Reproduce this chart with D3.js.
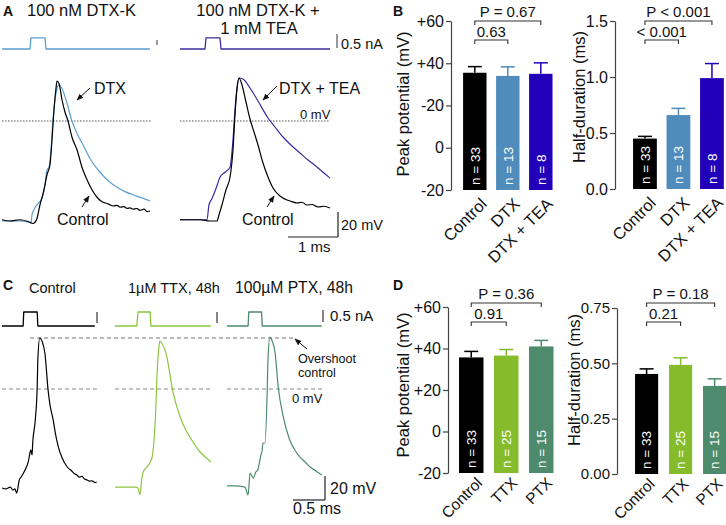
<!DOCTYPE html>
<html><head><meta charset="utf-8">
<script src="https://cdn.jsdelivr.net/npm/d3@7"></script>
<style>
body{margin:0;background:#fff}
svg{display:block;background:#fff}
text{font-family:"Liberation Sans",Arial,Helvetica,sans-serif;fill:#111}
</style>
</head><body>
<svg id="fig" width="726" height="525"></svg>
<script>
// ---------------- DATA ----------------
// Panel B bar charts
const bCategories = ["Control", "DTX", "DTX + TEA"];
const bPeakMean = [35.5, 34.0, 35.0];
const bPeakSem  = [2.9, 4.3, 5.2];
const bHalfMean = [0.45, 0.66, 0.99];
const bHalfSem  = [0.02, 0.06, 0.13];
const bN = [33, 13, 8];
// Panel D bar charts
const dCategories = ["Control", "TTX", "PTX"];
const dPeakMean = [35.7, 36.6, 41.0];
const dPeakSem  = [2.9, 2.9, 2.9];
const dHalfMean = [0.452, 0.493, 0.398];
const dHalfSem  = [0.023, 0.032, 0.032];
const dN = [33, 25, 15];
// tick values / labels
const peakTicks = [-20, 0, 20, 40, 60];
const bPeakTickLabels = ["-20", "0", "-20", "+40", "+60"];
const dPeakTickLabels = ["-20", "0", "+20", "+40", "+60"];
const bHalfTicks = [0, 0.5, 1.0, 1.5];
const bHalfTickLabels = ["0.0", "0.5", "1.0", "1.5"];
const dHalfTicks = [0, 0.25, 0.5, 0.75];
const dHalfTickLabels = ["0.00", "0.25", "0.50", "0.75"];
// p-value labels
const bPeakP = ["P = 0.67", "0.63"];
const bHalfP = ["P < 0.001", "< 0.001"];
const dPeakP = ["P = 0.36", "0.91"];
const dHalfP = ["P = 0.18", "0.21"];

// Panel A traces (time ms, membrane potential mV)
const aCtrlL_t = [0,0.16,0.36,0.56,0.62,0.66,0.70,0.76,0.84,0.90,0.96,1.00,1.04,1.08,1.10,1.14,1.20,1.26,1.32,1.40,1.50,1.60,1.70,1.80,1.90,2.02,2.10,2.16,2.22,2.30,2.36,2.44,2.50,2.56,2.62,2.70,2.76,2.84,2.90,2.96];
const aCtrlL_v = [-79,-80,-79,-81,-82,-81,-78,-67,-55,-43,-35,-15,9,26,32,30,17,7,0,-13,-23,-37,-47,-55,-61,-65,-66,-67,-68,-67.5,-69,-68.5,-70,-69.5,-70.5,-70,-71.5,-70.5,-72.5,-72];
const aDtx_t = [0,0.36,0.54,0.58,0.60,0.64,0.72,0.80,0.86,0.90,0.94,0.98,1.02,1.06,1.10,1.14,1.20,1.28,1.40,1.50,1.62,1.76,1.96,2.16,2.30,2.46,2.62,2.80,2.96];
const aDtx_v = [-80,-80,-81,-82,-75,-71,-66,-62,-51,-39,-37,-23,1,17,26,29,26,17,0,-10,-19,-30,-41,-49,-53,-56.5,-59,-61.5,-64];
const aCtrlR_t = [0,0.4,0.6,0.74,0.78,0.84,0.92,1.0,1.06,1.10,1.14,1.18,1.24,1.32,1.40,1.48,1.56,1.66,1.76,1.86,2.0,2.14,2.24,2.34,2.44,2.54,2.64,2.76,2.88,3.0];
const aCtrlR_v = [-79,-79,-80,-80,-75,-67,-55,-45,-23,5,26,34.4,28.8,15.2,1.6,-8.8,-19.2,-33.6,-44.8,-53.6,-60,-63.2,-64.5,-65.6,-65,-67.2,-66.8,-68.8,-68.2,-69.6];
const aTea_t = [0,0.4,0.54,0.58,0.64,0.72,0.80,0.90,1.0,1.06,1.10,1.14,1.18,1.26,1.40,1.56,1.76,1.90,2.06,2.24,2.40,2.56,2.74,2.88,3.0];
const aTea_v = [-79,-79,-79,-67,-62,-54,-45,-41,-37,-15,9,26,34.4,33.6,26.4,16,2.4,-4.8,-12.8,-20,-25.6,-31.2,-36.8,-41.6,-45.6];
// Panel A stimulus (time ms, current nA)
const stimAL_t = [0,0.56,0.58,0.86,0.88,2.96];
const stimAR_t = [0,0.50,0.52,0.80,0.82,3.0];
const stimA_i = [0,0,0.4,0.4,0,0];

// Panel C traces (time ms, mV)
const cCtrl_t = [0,0.06,0.13,0.17,0.2,0.23,0.27,0.3,0.36,0.41,0.44,0.45,0.47,0.48,0.52,0.55,0.56,0.59,0.63,0.67,0.72,0.75,0.8,0.83,0.88,0.94,1.02,1.09,1.13,1.17,1.21,1.25,1.29,1.33,1.37,1.41,1.45,1.48];
const cCtrl_v = [-82.5,-83.3,-81.7,-84.2,-83.3,-86.7,-75.8,-73.3,-67.5,-60.8,-52.5,-50.8,-55,-45,-25.8,1.7,24.2,42.5,39.2,30,-0.8,-13.3,-25.8,-35.8,-48.3,-57.5,-65,-68.3,-70.5,-71.7,-73.5,-72.8,-75,-75.8,-76.8,-76.5,-78,-77.5];
const cTtx_t = [0,0.16,0.31,0.36,0.39,0.42,0.44,0.5,0.55,0.58,0.61,0.63,0.66,0.69,0.7,0.73,0.81,0.86,0.89,0.95,1.02,1.09,1.17,1.25,1.33,1.41,1.5];
const cTtx_v = [-81.7,-81.7,-81.7,-82.5,-88.3,-74.2,-69.2,-65,-60.8,-56.7,-42.5,-25.8,15.8,36.7,40,38.3,26.7,11.7,1.7,-11.7,-23.3,-32.5,-40,-46.7,-52.5,-56.7,-60.8];
const cPtx_t = [0,0.13,0.28,0.33,0.36,0.41,0.45,0.48,0.53,0.55,0.56,0.59,0.63,0.64,0.67,0.7,0.75,0.8,0.88,0.98,1.06,1.14,1.22,1.3,1.39,1.48];
const cPtx_v = [-80.8,-80.8,-81.7,-88.3,-70,-74.2,-69.2,-67.5,-55,-50.8,-45,-45,1.7,24.2,43.3,40.8,30.8,1.7,-23.3,-42.5,-50.8,-56.7,-60.8,-65,-68.3,-71.7];
// Panel C stimulus
const stimCCtrl_t = [0,0.33,0.34,0.55,0.56,1.45];
const stimCTtx_t  = [0,0.34,0.36,0.55,0.56,1.50];
const stimCPtx_t  = [0,0.33,0.34,0.54,0.55,1.48];
const stimC_i = [0,0,0.5,0.5,0,0];

// ---------------- STYLE ----------------
const col = {
  control: "#000000", dtxBar: "#4f8cbc", teaBar: "#2200b9", ttxBar: "#86bc2c", ptxBar: "#4e8a6c",
  dtxTrace: "#5b9fd3", teaTrace: "#3a2c9f", ttxTrace: "#8cc63f", ptxTrace: "#4c8b6c"
};
const svg = d3.select("#fig");
const FONT = '"Liberation Sans",Arial,Helvetica,sans-serif';

function txt(x, y, s, size, opts = {}) {
  const t = svg.append("text").attr("x", x).attr("y", y).text(s)
    .style("font-size", size + "px");
  if (opts.anchor) t.attr("text-anchor", opts.anchor);
  if (opts.bold) t.style("font-weight", "bold");
  if (opts.fill) t.style("fill", opts.fill);
  return t;
}
function line(x1, y1, x2, y2, stroke = "#222", w = 1, dash = null) {
  const l = svg.append("line").attr("x1", x1).attr("y1", y1).attr("x2", x2).attr("y2", y2)
    .attr("stroke", stroke).attr("stroke-width", w);
  if (dash) l.attr("stroke-dasharray", dash);
  return l;
}
svg.append("defs").append("marker").attr("id", "arr").attr("viewBox", "0 0 10 10")
  .attr("refX", 9).attr("refY", 5).attr("markerWidth", 7).attr("markerHeight", 7)
  .attr("orient", "auto")
  .append("path").attr("d", "M0,1 L10,5 L0,9 Z").attr("fill", "#111");
function arrow(x1, y1, x2, y2) {
  line(x1, y1, x2, y2, "#111", 1).attr("marker-end", "url(#arr)");
}
function drawTrace(t, v, xs, ys, color, w = 1.2, curve = d3.curveMonotoneX) {
  const data = t.map((d, i) => [d, v[i]]);
  svg.append("path").datum(data)
    .attr("d", d3.line().x(d => xs(d[0])).y(d => ys(d[1])).curve(curve))
    .attr("fill", "none").attr("stroke", color).attr("stroke-width", w)
    .attr("stroke-linejoin", "round");
}

// ---------------- PANEL A ----------------
txt(3, 16, "A", 14, {bold: true});
txt(27, 16, "100 nM DTX-K", 16.5);
txt(258, 16, "100 nM DTX-K +", 16.5, {anchor: "middle"});
txt(259, 34, "1 mM TEA", 16.5, {anchor: "middle"});

const xAL = d3.scaleLinear().domain([0, 3]).range([2, 152]);
const xAR = d3.scaleLinear().domain([0, 3]).range([180, 330]);
const yA = d3.scaleLinear().domain([0, 20]).range([121, 96]);
const yStimA = d3.scaleLinear().domain([0, 0.5]).range([49, 35]);

drawTrace(stimAL_t, stimA_i, xAL, yStimA, col.dtxTrace, 1.3, d3.curveLinear);
drawTrace(stimAR_t, stimA_i, xAR, yStimA, col.teaTrace, 1.3, d3.curveLinear);
line(157, 40, 157, 45, "#333", 1);
line(337, 34, 337, 48, "#333", 1);
txt(341, 49, "0.5 nA", 14.5);

line(2, yA(0), 152, yA(0), "#555", 1, "1.5,1.5");
line(180, yA(0), 330, yA(0), "#555", 1, "1.5,1.5");
txt(300, 119, "0 mV", 13);

drawTrace(aDtx_t, aDtx_v, xAL, yA, col.dtxTrace);
drawTrace(aCtrlL_t, aCtrlL_v, xAL, yA, col.control);
drawTrace(aTea_t, aTea_v, xAR, yA, col.teaTrace);
drawTrace(aCtrlR_t, aCtrlR_v, xAR, yA, col.control);

txt(94, 94, "DTX", 16);
arrow(90, 88, 77, 100);
txt(57, 225, "Control", 16);
arrow(82, 207, 89, 196);
txt(279, 94, "DTX + TEA", 16);
arrow(277, 86, 263, 100);
txt(242, 225, "Control", 16);
arrow(267, 207, 274, 196);

// scale bars A
line(338, 237, 338, 212, "#222", 1.2);
line(288, 237, 338, 237, "#222", 1.2);
txt(341, 230, "20 mV", 14.5);
txt(298, 252, "1 ms", 15);

// ---------------- BAR CHART FUNCTION ----------------
function barChart(o) {
  const x = d3.scaleBand().domain(o.cats).range(o.xRange)
    .paddingInner(o.pad).paddingOuter(o.pad / 2);
  const y = d3.scaleLinear().domain(o.yDomain).range(o.yRange);
  const g = svg.append("g");
  const ax = g.append("g").attr("transform", `translate(${o.axisX},0)`)
    .call(d3.axisLeft(y).tickValues(o.ticks).tickFormat((d, i) => o.tickLabels[i])
      .tickSize(5).tickSizeOuter(0).tickPadding(2));
  ax.select(".domain").attr("stroke", "#444").attr("stroke-width", 1.2);
  ax.selectAll(".tick line").attr("stroke", "#444").attr("stroke-width", 1.2);
  ax.selectAll(".tick text").style("font-size", o.tickSize + "px").style("font-family", FONT).attr("fill", "#111");

  const base = o.yDomain[0];
  o.cats.forEach((c, i) => {
    const bx = x(c), bw = x.bandwidth(), cx = bx + bw / 2;
    const top = y(o.mean[i]), etop = y(o.mean[i] + o.sem[i]);
    g.append("line").attr("x1", cx).attr("x2", cx).attr("y1", top).attr("y2", etop)
      .attr("stroke", o.colors[i]).attr("stroke-width", 1.5);
    g.append("line").attr("x1", cx - 7).attr("x2", cx + 7).attr("y1", etop).attr("y2", etop)
      .attr("stroke", o.colors[i]).attr("stroke-width", 1.5);
    g.append("rect").attr("x", bx).attr("y", top).attr("width", bw)
      .attr("height", y(base) - top).attr("fill", o.colors[i]);
    g.append("text").attr("transform", `translate(${cx},${y(base) - 5}) rotate(-90)`)
      .attr("dy", "0.36em").style("font-size", "13.5px").style("fill", "#fff")
      .text("n = " + o.n[i]);
    g.append("text").attr("transform", `translate(${cx + o.labDx},${y(base) + o.labDy}) rotate(-45)`)
      .attr("text-anchor", "end").style("font-size", o.labSize + "px").text(c);
  });
  g.append("text").attr("transform", `translate(${o.titleX},${o.titleY}) rotate(-90)`)
    .attr("text-anchor", "middle").attr("dy", "0.35em").style("font-size", "16.5px").text(o.title);
  const cc = o.cats.map(c => x(c) + x.bandwidth() / 2);
  const br = (xa, xb, yy, label, ty) => {
    g.append("path").attr("d", `M${xa},${yy + 4}V${yy}H${xb}V${yy + 4}`)
      .attr("fill", "none").attr("stroke", "#333").attr("stroke-width", 1.1);
    g.append("text").attr("x", (xa + xb) / 2).attr("y", ty).attr("text-anchor", "middle")
      .style("font-size", "15px").text(label);
  };
  br(cc[0], cc[2], o.brTop, o.p[0], o.brTop - 4);
  br(cc[0], cc[1], o.brLow, o.p[1], o.brLow - 3);
}

// ---------------- PANEL B ----------------
txt(393, 16, "B", 14, {bold: true});
barChart({cats: bCategories, mean: bPeakMean, sem: bPeakSem, n: bN,
  colors: [col.control, col.dtxBar, col.teaBar], yDomain: [-20, 60], yRange: [190, 21],
  xRange: [458.3, 557.3], pad: 0.29, axisX: 451, ticks: peakTicks, tickLabels: bPeakTickLabels,
  tickSize: 16, labSize: 16.5, labDx: 13, labDy: 15,
  title: "Peak potential (mV)", titleX: 403, titleY: 104, brTop: 21, brLow: 40, p: bPeakP});
barChart({cats: bCategories, mean: bHalfMean, sem: bHalfSem, n: bN,
  colors: [col.control, col.dtxBar, col.teaBar], yDomain: [0, 1.5], yRange: [189, 21],
  xRange: [628.2, 728.7], pad: 0.29, axisX: 615, ticks: bHalfTicks, tickLabels: bHalfTickLabels,
  tickSize: 16, labSize: 16.5, labDx: 12, labDy: 15,
  title: "Half-duration (ms)", titleX: 579, titleY: 97, brTop: 21, brLow: 40, p: bHalfP});

// ---------------- PANEL C ----------------
txt(3, 290, "C", 14, {bold: true});
txt(29, 293, "Control", 14.5);
txt(128, 293, "1µM TTX, 48h", 14.5);
txt(235, 293, "100µM PTX, 48h", 15.7);

const xCc = d3.scaleLinear().domain([0, 1.5]).range([2, 98]);
const xCt = d3.scaleLinear().domain([0, 1.5]).range([115, 211]);
const xCp = d3.scaleLinear().domain([0, 1.5]).range([227, 323]);
const yC = d3.scaleLinear().domain([0, 20]).range([389, 365]);
const yStimC = d3.scaleLinear().domain([0, 0.5]).range([326, 312]);

drawTrace(stimCCtrl_t, stimC_i, xCc, yStimC, col.control, 1.3, d3.curveLinear);
drawTrace(stimCTtx_t, stimC_i, xCt, yStimC, col.ttxTrace, 1.3, d3.curveLinear);
drawTrace(stimCPtx_t, stimC_i, xCp, yStimC, col.ptxTrace, 1.3, d3.curveLinear);
line(97, 312, 97, 323, "#333", 1.2);
line(217, 312, 217, 323, "#333", 1.2);
line(323, 310, 323, 322, "#333", 1.2);
txt(330, 321, "0.5 nA", 15);

line(30, 338, 293, 338, "#777", 1, "4,3");
line(2, yC(0), 97, yC(0), "#888", 1, "4,3");
line(115, yC(0), 211, yC(0), "#888", 1, "4,3");
line(227, yC(0), 323, yC(0), "#888", 1, "4,3");
arrow(307, 349, 295, 339);
txt(298, 363, "Overshoot", 12.6);
txt(298, 377, "control", 12.6);
txt(292, 403, "0 mV", 13);

drawTrace(cCtrl_t, cCtrl_v, xCc, yC, col.control);
drawTrace(cTtx_t, cTtx_v, xCt, yC, col.ttxTrace);
drawTrace(cPtx_t, cPtx_v, xCp, yC, col.ptxTrace);

line(325, 500, 325, 476, "#222", 1.2);
line(293, 500, 325, 500, "#222", 1.2);
txt(330, 494, "20 mV", 16);
txt(293, 514, "0.5 ms", 16);

// ---------------- PANEL D ----------------
txt(393, 290, "D", 14, {bold: true});
barChart({cats: dCategories, mean: dPeakMean, sem: dPeakSem, n: dN,
  colors: [col.control, col.ttxBar, col.ptxBar], yDomain: [-20, 60], yRange: [473, 307],
  xRange: [453.75, 558.75], pad: 0.3, axisX: 448, ticks: peakTicks, tickLabels: dPeakTickLabels,
  tickSize: 16, labSize: 15.5, labDx: 12, labDy: 11,
  title: "Peak potential (mV)", titleX: 403, titleY: 385, brTop: 303, brLow: 322, p: dPeakP});
barChart({cats: dCategories, mean: dHalfMean, sem: dHalfSem, n: dN,
  colors: [col.control, col.ttxBar, col.ptxBar], yDomain: [0, 0.75], yRange: [474, 308],
  xRange: [629.6, 731.6], pad: 0.32, axisX: 617, ticks: dHalfTicks, tickLabels: dHalfTickLabels,
  tickSize: 15, labSize: 15.5, labDx: 9, labDy: 11,
  title: "Half-duration (ms)", titleX: 574, titleY: 380, brTop: 303, brLow: 322, p: dHalfP});
</script>
</body></html>
